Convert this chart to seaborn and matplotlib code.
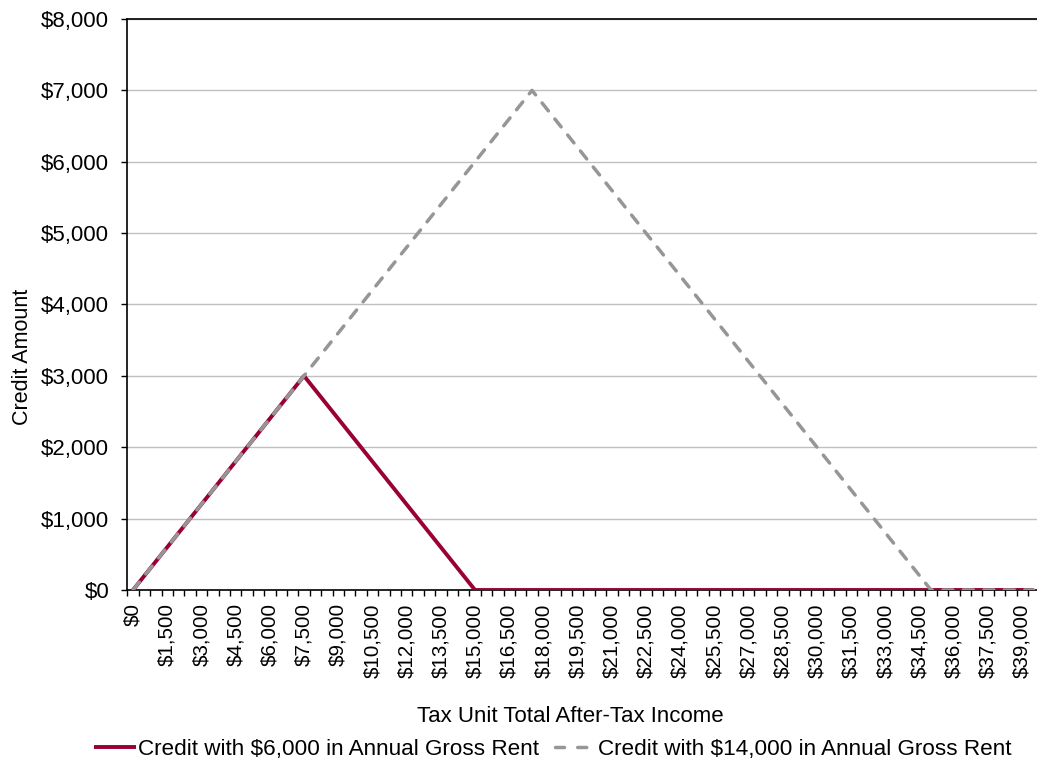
import numpy as np
import pandas as pd
import matplotlib
matplotlib.use("Agg")
import matplotlib.pyplot as plt
import seaborn as sns
from matplotlib.lines import Line2D

# ---- data (vertices) ----
income_6k = [0, 7500, 15000, 39500]
credit_6k = [0, 3000, 0, 0]
income_14k = [0, 17500, 35000, 39500]
credit_14k = [0, 7000, 0, 0]
label_6k = "Credit with $6,000 in Annual Gross Rent"
label_14k = "Credit with $14,000 in Annual Gross Rent"
y_ticks = [0, 1000, 2000, 3000, 4000, 5000, 6000, 7000, 8000]
x_label_values = list(range(0, 39001, 1500))

sns.set_style("white")
plt.rcParams["font.family"] = ["Liberation Sans", "DejaVu Sans"]
plt.rcParams["text.color"] = "black"
plt.rcParams["axes.labelcolor"] = "black"
plt.rcParams["xtick.color"] = "black"
plt.rcParams["ytick.color"] = "black"

RED = "#990033"
GRAY = "#969696"

fig = plt.figure(figsize=(10.37, 7.63), dpi=100)
ax = fig.add_axes([127.3 / 1037, 1 - 590 / 763, 912 / 1037, 571 / 763])

df6 = pd.DataFrame({"income": income_6k, "credit": credit_6k})
df14 = pd.DataFrame({"income": income_14k, "credit": credit_14k})
sns.lineplot(data=df6, x="income", y="credit", ax=ax, color=RED, lw=2.8,
             solid_capstyle="butt", zorder=3)
sns.lineplot(data=df14, x="income", y="credit", ax=ax, color=GRAY, lw=2.5,
             zorder=4)
gl = ax.get_lines()[-1]
gl.set_dashes([2.9, 3.0])
gl.set_dash_capstyle("round")

ax.set_xlim(-250, 39750)
ax.set_ylim(0, 8000)

# y axis
ax.set_yticks(y_ticks)
ax.set_yticklabels([f"${v:,.0f}" for v in y_ticks], fontsize=16)
ax.tick_params(axis="y", which="major", direction="out", length=4.5, width=1,
               color="black", pad=8.6, left=True, labelcolor="black")
ax.yaxis.grid(True, color="#C0C0C0", lw=1)
ax.set_axisbelow(True)

# x axis: tick marks at category boundaries, labels at category centers
bounds = np.arange(-250, 39751, 500)
ax.set_xticks(bounds)
ax.set_xticklabels([""] * len(bounds))
ax.tick_params(axis="x", which="major", direction="out", length=4.5, width=1,
               color="black", bottom=True)
ax.set_xticks(x_label_values, minor=True)
ax.set_xticklabels([f"${v:,.0f}" for v in x_label_values], minor=True,
                   rotation=90, fontsize=14.8)
ax.tick_params(axis="x", which="minor", length=0, pad=9.5, labelcolor="black")

for s in ["left", "bottom", "top"]:
    ax.spines[s].set_visible(True)
    ax.spines[s].set_color("black")
    ax.spines[s].set_linewidth(1.2)
ax.spines["right"].set_visible(False)

ax.set_xlabel("Tax Unit Total After-Tax Income", fontsize=16, color="black")
ax.xaxis.label.set_va("center")
ax.xaxis.set_label_coords((570 - 127.3) / 912, (590 - 716) / 571)
ax.set_ylabel("Credit Amount", fontsize=15.5, color="black")
ax.yaxis.label.set_va("center")
ax.yaxis.label.set_ha("center")
ax.yaxis.set_label_coords((23 - 127.3) / 912, (590 - 357) / 571)

handles = [
    Line2D([], [], color=RED, lw=2.8, solid_capstyle="butt"),
    Line2D([], [], color=GRAY, lw=2.5, dashes=[2.6, 3.8], dash_capstyle="round"),
]
fig.legend(handles, [label_6k, label_14k], loc="center",
           bbox_to_anchor=(553 / 1037, 1 - 749 / 763), ncol=2, frameon=False,
           fontsize=16.2, handlelength=1.86, handletextpad=0.08,
           columnspacing=0.7, borderaxespad=0, borderpad=0, labelcolor="black")

fig.savefig("out.png", dpi=100)
